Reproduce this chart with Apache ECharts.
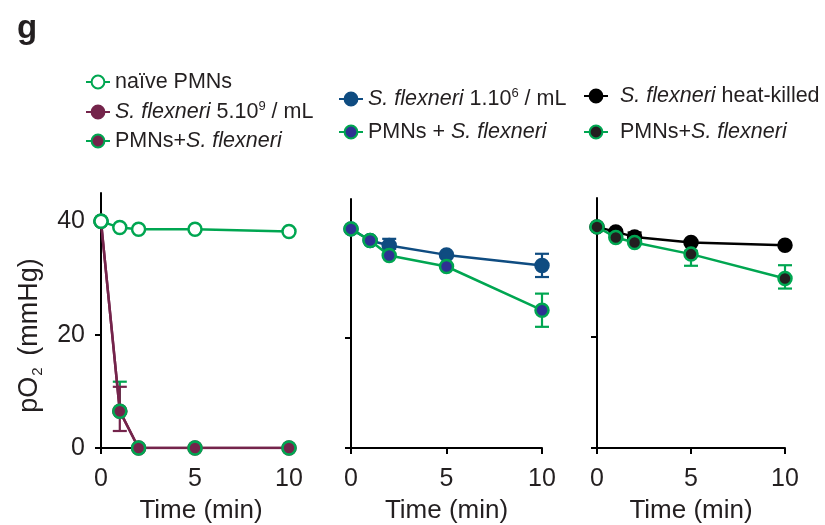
<!DOCTYPE html>
<html>
<head>
<meta charset="utf-8">
<script src="https://cdn.jsdelivr.net/npm/echarts@6/dist/echarts.min.js"></script>
<style>html,body{margin:0;padding:0;background:#fff}#c{width:825px;height:525px}</style>
</head>
<body>
<div id="c"></div>
<script>
// ---------- data ----------
const times = [0, 1, 2, 5, 10];
const yTicks = [0, 20, 40];
const xTicks = [0, 5, 10];

// Panel 1
const naivePMN = [40, 38.9, 38.6, 38.6, 38.2];
const sf9 = [40, 6.5, 0, 0, 0];
const pmnSf9 = [40, 6.5, 0, 0, 0];
const sf9ErrLow = [null, 3.0, null, null, null];
const sf9ErrHigh = [null, 10.8, null, null, null];
const pmnSf9ErrLow = [null, 6.5, null, null, null];
const pmnSf9ErrHigh = [null, 11.7, null, null, null];

// Panel 2
const sf6 = [39.6, 37.5, 36.6, 34.9, 33.0];
const pmnSf6 = [39.6, 37.5, 34.8, 32.8, 24.9];
const sf6ErrLow = [null, null, 36.0, null, 30.9];
const sf6ErrHigh = [null, null, 37.8, null, 35.1];
const pmnSf6ErrLow = [null, null, null, null, 21.9];
const pmnSf6ErrHigh = [null, null, null, null, 27.9];

// Panel 3
const heatKilled = [39.8, 38.9, 38.0, 37.0, 36.5];
const pmnHK = [39.8, 37.9, 37.0, 34.9, 30.5];
const hkErrLow = [null, null, 37.6, null, null];
const hkErrHigh = [null, null, 38.8, null, null];
const pmnHKErrLow = [null, null, null, 32.8, 28.7];
const pmnHKErrHigh = [null, null, null, 35.5, 32.9];

// ---------- styling ----------
const GREEN = '#00a651';
const MAROON = '#74244b';
const NAVY = '#0f4c81';
const BLUE = '#2e3192';
const BLACK = '#000000';
const DARK = '#231f20';
const FONT = '"Liberation Sans", Arial, Helvetica, sans-serif';

function pairs(ys) { return times.map((t, i) => [t, ys[i]]); }
function errData(lo, hi) {
  const out = [];
  times.forEach((t, i) => { if (lo[i] != null && hi[i] != null) out.push([t, lo[i], hi[i]]); });
  return out;
}
function errSeries(idx, lo, hi, color, z) {
  return {
    type: 'custom', xAxisIndex: idx, yAxisIndex: idx, z: z || 1, silent: true, clip: false,
    encode: { x: 0, y: [1, 2] },
    data: errData(lo, hi),
    renderItem: function (params, api) {
      const x = api.value(0), lo = api.value(1), hi = api.value(2);
      const a = api.coord([x, lo]), b = api.coord([x, hi]);
      const hw = 7;
      const st = { stroke: color, lineWidth: 2.2, fill: null };
      return { type: 'group', children: [
        { type: 'line', shape: { x1: a[0], y1: a[1], x2: b[0], y2: b[1] }, style: st },
        { type: 'line', shape: { x1: a[0] - hw, y1: a[1], x2: a[0] + hw, y2: a[1] }, style: st },
        { type: 'line', shape: { x1: b[0] - hw, y1: b[1], x2: b[0] + hw, y2: b[1] }, style: st }
      ] };
    }
  };
}
function lineSeries(name, idx, ys, fill, border, lineColor, z) {
  return {
    name: name, type: 'line', xAxisIndex: idx, yAxisIndex: idx, z: z,
    data: pairs(ys), symbol: 'circle', symbolSize: 13, showSymbol: true,
    itemStyle: { color: fill, borderColor: border, borderWidth: 2.5 },
    lineStyle: { color: lineColor, width: 2.5 },
    emphasis: { disabled: true }
  };
}

const labelMap = {
  'naïve PMNs': '{n|naïve PMNs}',
  'S. flexneri 5.10^9 / mL': '{i|S. flexneri}{n| 5.10}{sup|9}{n| / mL}',
  'PMNs+S. flexneri': '{n|PMNs+}{i|S. flexneri}',
  'S. flexneri 1.10^6 / mL': '{i|S. flexneri}{n| 1.10}{sup|6}{n| / mL}',
  'PMNs + S. flexneri': '{n|PMNs + }{i|S. flexneri}',
  'S. flexneri heat-killed': '{g|}{i|S. flexneri}{n| heat-killed}',
  'PMNs+S. flexneri (HK)': '{g|}{n|PMNs+}{i|S. flexneri}'
};
const LF = 21.5;
const legendText = {
  fontFamily: FONT, color: DARK,
  rich: {
    n: { fontSize: LF, fontFamily: FONT, color: DARK, lineHeight: 24 },
    i: { fontSize: LF, fontFamily: FONT, color: DARK, fontStyle: 'italic', lineHeight: 24 },
    sup: { fontSize: 13, fontFamily: FONT, color: DARK, lineHeight: 13, verticalAlign: 'top' },
    g: { width: 7, lineHeight: 24 }
  }
};
function legend(left, top, gap, data) {
  return {
    orient: 'vertical', left: left, top: top, itemGap: gap, itemWidth: 24, itemHeight: 16,
    selectedMode: false, data: data, textStyle: legendText,
    formatter: function (n) { return labelMap[n] || n; }
  };
}

const grids = [
  { left: 101, top: 193, width: 188, height: 255 },
  { left: 351, top: 199, width: 191, height: 250 },
  { left: 597, top: 198, width: 188, height: 250 }
];

function xAxis(idx, padLeft) {
  return {
    type: 'value', gridIndex: idx, min: 0, max: 10, interval: 5,
    name: 'Time (min)', nameLocation: 'middle', nameGap: 50,
    nameTextStyle: { fontFamily: FONT, fontSize: 26, color: DARK, padding: [0, 0, 0, padLeft || 0] },
    axisLine: { show: true, onZero: false, lineStyle: { color: BLACK, width: 2 } },
    axisTick: { show: true, length: 6, lineStyle: { color: BLACK, width: 2 }, customValues: xTicks },
    axisLabel: { fontFamily: FONT, fontSize: 25, color: DARK, margin: 19, customValues: xTicks },
    splitLine: { show: false }
  };
}
function yAxis(idx, showLabels) {
  const ax = {
    type: 'value', gridIndex: idx, min: 0, max: 45, interval: 20,
    axisLine: { show: true, onZero: false, lineStyle: { color: BLACK, width: 2 } },
    axisTick: { show: true, length: 6, lineStyle: { color: BLACK, width: 2 }, customValues: yTicks },
    axisLabel: { show: showLabels, fontFamily: FONT, fontSize: 25, color: DARK, margin: 16, customValues: yTicks },
    splitLine: { show: false }
  };
  if (showLabels) {
    ax.name = '{b|pO}{s|2}{b| (mmHg)}';
    ax.nameLocation = 'middle';
    ax.nameGap = 56;
    ax.nameTextStyle = {
      fontFamily: FONT, color: DARK, padding: [0, 30, 0, 0],
      rich: {
        b: { fontSize: 27, fontFamily: FONT, color: DARK, lineHeight: 30 },
        s: { fontSize: 15, fontFamily: FONT, color: DARK, lineHeight: 15, verticalAlign: 'bottom', padding: [0, 4, 0, 1] }
      }
    };
  }
  return ax;
}

const chart = echarts.init(document.getElementById('c'), null, { renderer: 'canvas' });
chart.setOption({
  animation: false,
  backgroundColor: '#fff',
  title: { text: 'g', left: 12, top: 7, textStyle: { fontFamily: FONT, fontSize: 33, fontWeight: 'bold', color: DARK } },
  legend: [
    legend(80, 66, 7, [
      { name: 'naïve PMNs' },
      { name: 'S. flexneri 5.10^9 / mL' },
      { name: 'PMNs+S. flexneri', lineStyle: { color: GREEN } }
    ]),
    legend(333, 82, 11, [{ name: 'S. flexneri 1.10^6 / mL' }, { name: 'PMNs + S. flexneri' }]),
    legend(578, 80, 14, [{ name: 'S. flexneri heat-killed' }, { name: 'PMNs+S. flexneri (HK)' }])
  ],
  grid: grids,
  xAxis: [xAxis(0, 12), xAxis(1), xAxis(2)],
  yAxis: [yAxis(0, true), yAxis(1, false), yAxis(2, false)],
  series: [
    errSeries(0, pmnSf9ErrLow, pmnSf9ErrHigh, GREEN, 1),
    errSeries(0, sf9ErrLow, sf9ErrHigh, MAROON, 1),
    lineSeries('S. flexneri 5.10^9 / mL', 0, sf9, MAROON, MAROON, MAROON, 3),
    lineSeries('PMNs+S. flexneri', 0, pmnSf9, MAROON, GREEN, MAROON, 4),
    lineSeries('naïve PMNs', 0, naivePMN, '#ffffff', GREEN, GREEN, 5),

    errSeries(1, sf6ErrLow, sf6ErrHigh, NAVY, 1),
    errSeries(1, pmnSf6ErrLow, pmnSf6ErrHigh, GREEN, 1),
    lineSeries('S. flexneri 1.10^6 / mL', 1, sf6, NAVY, NAVY, NAVY, 3),
    lineSeries('PMNs + S. flexneri', 1, pmnSf6, BLUE, GREEN, GREEN, 4),

    errSeries(2, hkErrLow, hkErrHigh, BLACK, 1),
    errSeries(2, pmnHKErrLow, pmnHKErrHigh, GREEN, 1),
    lineSeries('S. flexneri heat-killed', 2, heatKilled, BLACK, BLACK, BLACK, 3),
    lineSeries('PMNs+S. flexneri (HK)', 2, pmnHK, DARK, GREEN, GREEN, 4)
  ]
});
</script>
</body>
</html>
